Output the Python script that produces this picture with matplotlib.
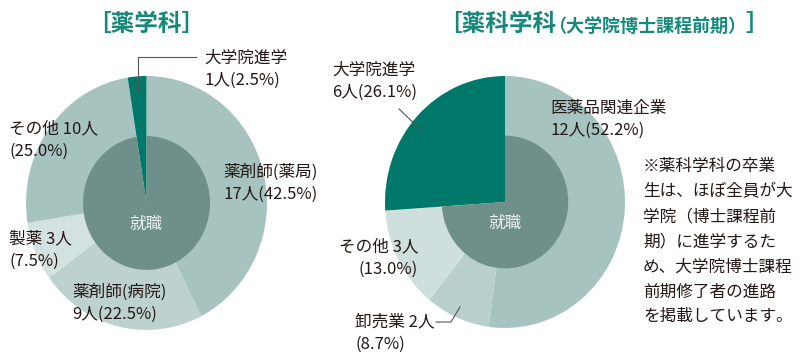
import matplotlib
matplotlib.use("Agg")
import matplotlib.pyplot as plt

plt.rcParams['font.family'] = ['Noto Sans CJK JP', 'DejaVu Sans']

# ---- data ----
left_names = ["薬剤師(薬局)", "薬剤師(病院)", "製薬", "その他", "大学院進学"]
left_counts = [17, 9, 3, 10, 1]

right_names = ["医薬品関連企業", "卸売業", "その他", "大学院進学"]
right_counts = [12, 2, 3, 6]

left_title = "［薬学科］"
right_title_main = "［薬科学科"
right_title_sub = "（大学院博士課程前期）"
right_title_end = "］"
center_label = "就職"
note_lines = ["※薬科学科の卒業", "生は、ほぼ全員が大", "学院（博士課程前",
              "期）に進学するた", "め、大学院博士課程", "前期修了者の進路",
              "を掲載しています。"]

# ---- style ----
TEAL = "#00796b"
TITLE = "#16897b"
INNER = "#6f8f8b"
TEXT = "#231815"
LINE = "#555555"
left_colors = ["#a7c3c0", "#bdd2cf", "#d3e2e0", "#a7c3c0", TEAL]
right_colors = ["#a7c3c0", "#b9cfcc", "#cfdfdd", TEAL]

W, H = 805, 361
fig = plt.figure(figsize=(W / 100, H / 100), dpi=100)


def fx(x):
    return x / W


def fy(y):
    return 1 - y / H


def donut(box, counts, colors):
    x0, y0, x1, y1 = box
    ax = fig.add_axes([fx(x0), fy(y1), (x1 - x0) / W, (y1 - y0) / H])
    ax.pie(counts, colors=colors, startangle=90, counterclock=False,
           radius=1.0, wedgeprops=dict(linewidth=0))
    # inner part: employment share darker, grad-school wedge left as is
    job = sum(counts[:-1])
    ax.pie([job, counts[-1]], colors=[INNER, "none"], startangle=90,
           counterclock=False, radius=0.527, wedgeprops=dict(linewidth=0))
    ax.set_aspect("auto")
    ax.set_xlim(-1, 1)
    ax.set_ylim(-1, 1)
    ax.axis("off")
    return ax


ax_l = donut((26, 76, 267, 330), left_counts, left_colors)
ax_r = donut((385, 76, 625, 328), right_counts, right_colors)

for ax in (ax_l, ax_r):
    ax.text(0, -0.17, center_label, ha="center", va="center",
            fontsize=12, color="#e6eeed")


def pct(c, counts):
    return f"{100 * c / sum(counts):.1f}%"


def label(x, y, line1, line2, ha="left", dy=22):
    kw = dict(fontsize=12, color=TEXT, va="center", ha=ha)
    fig.text(fx(x), fy(y), line1, **kw)
    fig.text(fx(x), fy(y + dy), line2, **kw)


# ---- titles ----
fig.text(fx(146), fy(24), left_title, ha="center", va="center",
         fontsize=17, fontweight="bold", color=TITLE)
fig.text(fx(438), fy(24), right_title_main, ha="left", va="center",
         fontsize=17, fontweight="bold", color=TITLE)
fig.text(fx(548), fy(26), right_title_sub, ha="left", va="center",
         fontsize=13, fontweight="bold", color=TITLE)
fig.text(fx(745), fy(24), right_title_end, ha="left", va="center",
         fontsize=17, fontweight="bold", color=TITLE)

# ---- left labels ----
lc = left_counts
label(204, 58, left_names[4], f"{lc[4]}人({pct(lc[4], lc)})")
label(223, 172, left_names[0], f"{lc[0]}人({pct(lc[0], lc)})")
label(72, 292, left_names[1], f"{lc[1]}人({pct(lc[1], lc)})")
label(9, 239, f"{left_names[2]} {lc[2]}人", f"({pct(lc[2], lc)})")
label(9, 129, f"{left_names[3]} {lc[3]}人", f"({pct(lc[3], lc)})")
fig.add_artist(plt.Line2D([fx(138), fx(138), fx(196)],
                          [fy(92), fy(57), fy(57)], color=LINE, lw=0.8))

# ---- right labels ----
rc = right_counts
label(332, 70, right_names[3], f"{rc[3]}人({pct(rc[3], rc)})")
label(550, 108, right_names[0], f"{rc[0]}人({pct(rc[0], rc)})")
label(418, 247, f"{right_names[2]} {rc[2]}人", f"({pct(rc[2], rc)})", ha="right")
label(355, 322, f"{right_names[1]} {rc[1]}人", f"({pct(rc[1], rc)})")
fig.add_artist(plt.Line2D([fx(399), fx(423)], [fy(109), fy(132)],
                          color=LINE, lw=0.8))
fig.add_artist(plt.Line2D([fx(436), fx(451), fx(460)],
                          [fy(322), fy(322), fy(307)], color=LINE, lw=0.8))

# ---- note ----
for i, line in enumerate(note_lines):
    fig.text(fx(643), fy(167 + 25 * i), line, ha="left", va="center",
             fontsize=12, color=TEXT)

fig.savefig("out.png", dpi=100, facecolor="white")
